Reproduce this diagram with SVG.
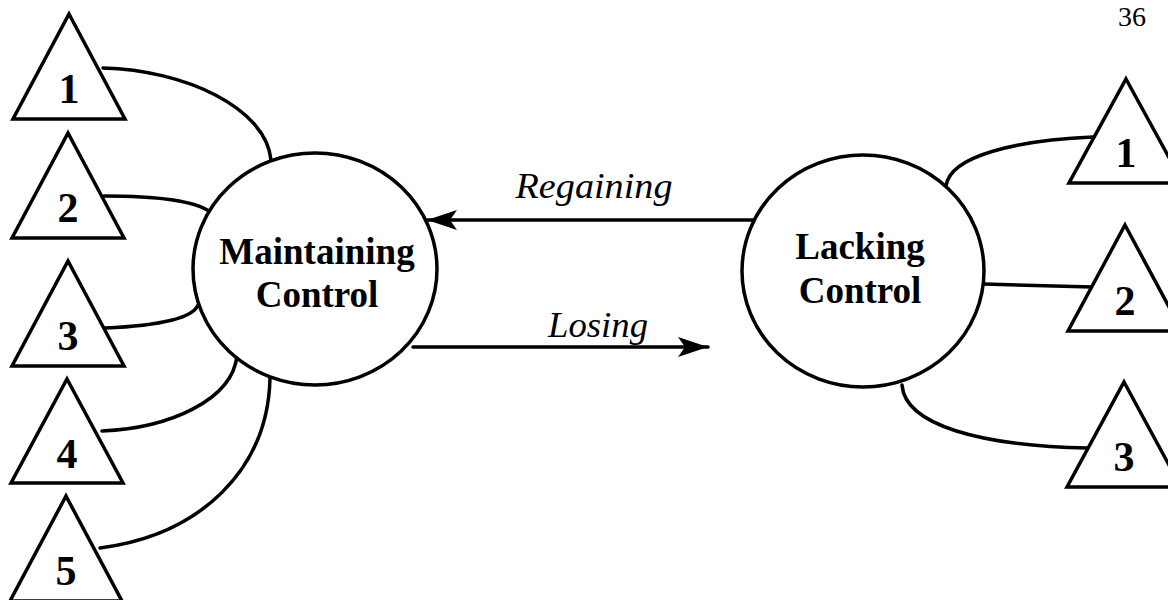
<svg xmlns="http://www.w3.org/2000/svg" width="1168" height="600" viewBox="0 0 1168 600">
<style>
  .shape { fill: #ffffff; stroke: #000000; stroke-width: 3.5; stroke-linejoin: miter; }
  .conn { fill: none; stroke: #000000; stroke-width: 3.5; stroke-linecap: round; }
  .num { font-family: "Liberation Serif", "Times New Roman", serif; font-weight: bold; font-size: 42px; text-anchor: middle; fill: #000; }
  .state { font-family: "Liberation Serif", "Times New Roman", serif; font-weight: bold; font-size: 37px; text-anchor: middle; fill: #000; }
  .trans { font-family: "Liberation Serif", "Times New Roman", serif; font-style: italic; font-size: 35px; text-anchor: middle; fill: #000; }
  .page { font-family: "Liberation Serif", "Times New Roman", serif; font-size: 28px; text-anchor: middle; fill: #000; }
</style>
<defs>
  <marker id="arrow" markerUnits="userSpaceOnUse" markerWidth="34" markerHeight="22" refX="30" refY="10" orient="auto">
    <path d="M0,0 L30,10 L0,20 L7,10 Z" fill="#000"/>
  </marker>
</defs>
<rect width="1168" height="600" fill="#ffffff"/>

<text class="page" x="1132" y="26">36</text>

<g id="connectors">
  <path class="conn" d="M103,68 C185,70 266,108 271,160"/>
  <path class="conn" d="M104,196 C150,196 192,200 209,211"/>
  <path class="conn" d="M105,328 C150,326 192,320 198,305"/>
  <path class="conn" d="M102,431 C170,428 232,400 237,356"/>
  <path class="conn" d="M100,548 C200,535 268,470 270,378"/>
  <path class="conn" d="M1093,137 C1020,140 950,155 946,186"/>
  <path class="conn" d="M984,284 L1092,287"/>
  <path class="conn" d="M902,385 C905,425 980,446 1088,448"/>
  <line class="conn" x1="754" y1="220" x2="427" y2="220" marker-end="url(#arrow)"/>
  <line class="conn" x1="413" y1="347" x2="708" y2="347" marker-end="url(#arrow)"/>
  <text class="trans" x="594" y="198" textLength="157" lengthAdjust="spacingAndGlyphs">Regaining</text>
  <text class="trans" x="598" y="337" textLength="100" lengthAdjust="spacingAndGlyphs">Losing</text>
</g>

<g id="maintaining">
  <ellipse class="shape" cx="315" cy="269" rx="122" ry="116"/>
  <text class="state" x="317" y="264">Maintaining</text>
  <text class="state" x="317" y="307">Control</text>
</g>
<g id="lacking">
  <ellipse class="shape" cx="863" cy="271" rx="121" ry="116"/>
  <text class="state" x="860" y="259">Lacking</text>
  <text class="state" x="860" y="303">Control</text>
</g>

<g id="left-1">
  <polygon class="shape" points="69,14 125,119 13,119"/>
  <text class="num" x="69" y="103">1</text>
</g>
<g id="left-2">
  <polygon class="shape" points="68,133 124,238 12,238"/>
  <text class="num" x="68" y="222">2</text>
</g>
<g id="left-3">
  <polygon class="shape" points="68,261 124,366 12,366"/>
  <text class="num" x="68" y="350">3</text>
</g>
<g id="left-4">
  <polygon class="shape" points="67,379 123,483 11,483"/>
  <text class="num" x="67" y="468">4</text>
</g>
<g id="left-5">
  <polygon class="shape" points="66,496 122,601 10,601"/>
  <text class="num" x="66" y="585">5</text>
</g>

<g id="right-1">
  <polygon class="shape" points="1126,79 1183,183 1069,183"/>
  <text class="num" x="1126" y="167">1</text>
</g>
<g id="right-2">
  <polygon class="shape" points="1125,225 1182,331 1068,331"/>
  <text class="num" x="1125" y="315">2</text>
</g>
<g id="right-3">
  <polygon class="shape" points="1124,382 1181,487 1067,487"/>
  <text class="num" x="1124" y="471">3</text>
</g>
</svg>
